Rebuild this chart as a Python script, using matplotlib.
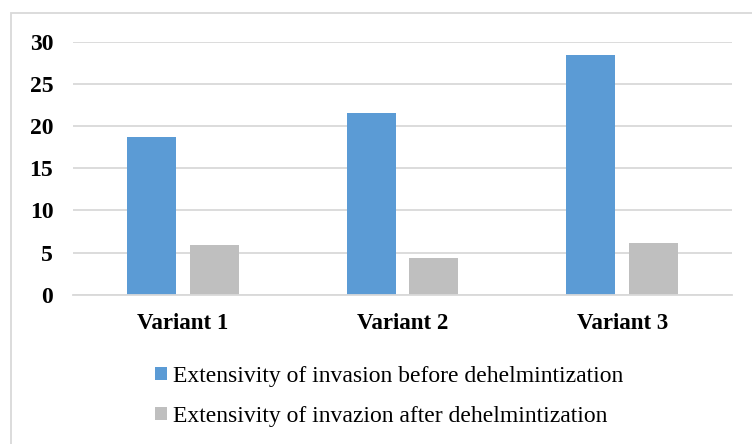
import matplotlib
matplotlib.use("Agg")
import matplotlib.pyplot as plt
import numpy as np
from matplotlib.patches import Rectangle

categories = ["Variant 1", "Variant 2", "Variant 3"]
before = [18.7, 21.6, 28.5]
after = [5.9, 4.3, 6.1]
series_labels = [
    "Extensivity of invasion before dehelmintization",
    "Extensivity of invazion after dehelmintization",
]
yticks = [0, 5, 10, 15, 20, 25, 30]

BLUE = "#5B9BD5"
GRAY = "#BFBFBF"
GRID = "#D9D9D9"

W, H = 752, 444
fig = plt.figure(figsize=(W / 100, H / 100), dpi=100)
plt.rcParams["font.family"] = ["Liberation Serif", "DejaVu Serif"]

# chart area border (runs off the right and bottom edges)
fig.patches.append(Rectangle((11 / W, -0.05), 1.2, 1 - 13 / H + 0.05,
                             transform=fig.transFigure, fill=False,
                             edgecolor=GRID, linewidth=1.3))

ax = fig.add_axes([72.7 / W, 1 - 294.7 / H, (732.3 - 72.7) / W, (294.7 - 42) / H])
x = np.arange(len(categories))
bw = 0.223
off = 0.143
ax.bar(x - off, before, bw, color=BLUE, zorder=3, label=series_labels[0])
ax.bar(x + off, after, bw, color=GRAY, zorder=3, label=series_labels[1])

ax.set_xlim(-0.5, 2.5)
ax.set_ylim(0, 30)
ax.set_yticks(yticks)
ax.set_yticklabels([str(v) for v in yticks], fontsize=17, fontweight="bold")
ax.set_xticks(x)
ax.set_xticklabels(categories, fontsize=16.5, fontweight="bold")
ax.tick_params(axis="y", length=0, pad=14)
ax.tick_params(axis="x", length=0, pad=13)
ax.grid(axis="y", color=GRID, linewidth=1.3, zorder=0)
for s in ["top", "right", "left"]:
    ax.spines[s].set_visible(False)
ax.spines["bottom"].set_color(GRID)
ax.spines["bottom"].set_linewidth(1.3)
ax.spines["bottom"].set_zorder(4)

handles, labels = ax.get_legend_handles_labels()
fig.legend(handles, labels, loc="center left", bbox_to_anchor=(155 / W, 1 - 396.5 / H),
           frameon=False, fontsize=17, handlelength=0.51, handleheight=0.51,
           handletextpad=0.25, labelspacing=0.8, borderpad=0, borderaxespad=0)

fig.savefig("out.png", dpi=100, facecolor="white")
